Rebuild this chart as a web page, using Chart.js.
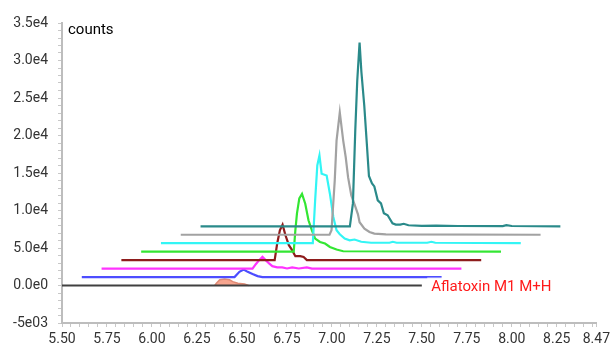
<!DOCTYPE html>
<html>
<head>
<meta charset="utf-8">
<script src="https://cdn.jsdelivr.net/npm/chart.js@4/dist/chart.umd.min.js"></script>
<style>
  html, body { margin: 0; padding: 0; background: #fff; }
  #wrap { width: 614px; height: 347px; }
</style>
</head>
<body>
<div id="wrap"><canvas id="chromChart" width="614" height="347"></canvas></div>
<script>
// 重ね表示したクロマトグラム（時間 [min], counts）
const tealTrace = [[6.27, 7890], [7.10, 7890], [7.117, 10950], [7.130, 20650], [7.141, 27300], [7.154, 32390],
    [7.164, 28500], [7.180, 24000], [7.194, 19000], [7.206, 14600], [7.223, 13610], [7.236, 13210], [7.255, 11350],
    [7.273, 10950], [7.289, 9620], [7.310, 9360], [7.337, 8290], [7.355, 8120], [7.380, 8120], [7.399, 8230],
    [7.426, 8030], [7.50, 7960], [7.58, 7990], [7.70, 7930], [7.95, 7930], [7.97, 8050], [8.00, 7930], [8.27, 7890]];
const greyTrace = [[6.16, 6770], [6.987, 6770], [6.998, 7360], [7.016, 14010], [7.026, 19320], [7.044, 23090],
    [7.063, 19320], [7.077, 17100], [7.090, 14450], [7.108, 12010], [7.126, 10820], [7.145, 9490], [7.154, 8430],
    [7.181, 7590], [7.209, 7140], [7.236, 6920], [7.30, 6820], [8.16, 6770]];
const cyanTrace = [[6.05, 5640], [6.894, 5640], [6.907, 11350], [6.919, 16000], [6.931, 17330], [6.943, 14900],
    [6.971, 14670], [6.989, 12240], [7.008, 9130], [7.026, 7360], [7.044, 6830], [7.071, 6260], [7.099, 6030],
    [7.126, 6130], [7.163, 5830], [7.218, 5700], [7.32, 5700], [7.339, 5830], [7.36, 5700], [7.53, 5700],
    [7.553, 5830], [7.575, 5700], [8.05, 5640]];
const greenTrace = [[5.94, 4510], [6.788, 4510], [6.797, 7360], [6.806, 9620], [6.819, 11620], [6.834, 12210],
    [6.852, 10910], [6.870, 8690], [6.889, 7360], [6.907, 6260], [6.934, 5810], [6.962, 5600], [6.989, 5140],
    [7.026, 4800], [7.063, 4570], [7.94, 4510]];
const darkRedTrace = [[5.83, 3380], [6.682, 3380], [6.696, 5600], [6.711, 7360], [6.726, 8120], [6.742, 6700],
    [6.761, 5370], [6.779, 4710], [6.797, 3910], [6.824, 3910], [6.843, 3810], [6.861, 3380], [7.83, 3380]];
const magentaTrace = [[5.72, 2250], [6.559, 2250], [6.577, 2840], [6.596, 3380], [6.614, 3810], [6.632, 3380],
    [6.651, 2940], [6.669, 2580], [6.696, 2410], [6.724, 2410], [6.751, 2270], [6.779, 2410], [6.816, 2270],
    [6.861, 2410], [6.889, 2250], [7.72, 2250]];
const blueTrace = [[5.61, 1130], [6.459, 1130], [6.486, 1820], [6.510, 2140], [6.532, 1820], [6.559, 1520],
    [6.587, 1250], [6.614, 1130], [7.61, 1130]];
const blackTrace = [[5.50, 0], [7.50, 0]];
// 積分されたピーク（塗りつぶし）
const blackPeak = [[6.349, 0], [6.358, 300], [6.377, 760], [6.404, 880], [6.431, 760], [6.449, 520],
    [6.477, 300], [6.514, 190], [6.537, 0]];

// 軸目盛
const xMajorTicks = [5.50, 5.75, 6.00, 6.25, 6.50, 6.75, 7.00, 7.25, 7.50, 7.75, 8.00, 8.25, 8.47];
const xMinorStep = 0.05;
const yTickValues = [35000, 30000, 25000, 20000, 15000, 10000, 5000, 0, -5000];
const yTickLabels = ['3.5e4', '3.0e4', '2.5e4', '2.0e4', '1.5e4', '1.0e4', '5.0e4', '0.0e0', '-5e03'];
const yMinorStep = 1000;

const compoundLabel = 'Aflatoxin M1 M+H';
const yAxisTitle = 'counts';

const toXY = arr => arr.map(p => ({ x: p[0], y: p[1] }));

function lineSet(data, color) {
    return {
        data: toXY(data),
        borderColor: color,
        borderWidth: 2.2,
        pointRadius: 0,
        showLine: true,
        tension: 0,
        fill: false
    };
}

// テキスト（counts、化合物名）
const labelPlugin = {
    id: 'labels',
    afterDatasetsDraw(chart) {
        const ctx = chart.ctx;
        const xs = chart.scales.x;
        const ys = chart.scales.y;
        ctx.save();
        ctx.font = '15px Roboto, sans-serif';
        ctx.textBaseline = 'middle';
        ctx.textAlign = 'left';
        ctx.fillStyle = '#000';
        ctx.fillText(yAxisTitle, chart.chartArea.left + 6, chart.chartArea.top + 7);

        const lx = xs.getPixelForValue(7.53) + 4;
        const ly = ys.getPixelForValue(0) + 2;
        const w = ctx.measureText(compoundLabel).width;
        ctx.fillStyle = 'rgba(255,255,255,0.75)';
        ctx.fillRect(lx - 4, ly - 10, w + 8, 20);
        ctx.fillStyle = '#ff1a1a';
        ctx.fillText(compoundLabel, lx, ly);
        ctx.restore();
    }
};

const ctx = document.getElementById('chromChart').getContext('2d');
const chromChart = new Chart(ctx, {
    type: 'scatter',
    data: {
        datasets: [
            lineSet(tealTrace, '#2a8a8a'),
            lineSet(greyTrace, '#a2a2a2'),
            lineSet(cyanTrace, '#33f5f5'),
            lineSet(greenTrace, '#33e633'),
            lineSet(darkRedTrace, '#8e1c1c'),
            lineSet(magentaTrace, '#ff33ff'),
            lineSet(blueTrace, '#4d4dff'),
            lineSet(blackTrace, '#404040'),
            Object.assign(lineSet(blackPeak, '#e08a74'), {
                borderWidth: 1.5,
                fill: 'origin',
                backgroundColor: '#f7a58f'
            })
        ]
    },
    options: {
        responsive: false,
        animation: false,
        layout: { padding: { left: 0, right: 11, top: 23, bottom: 0 } },
        plugins: {
            legend: { display: false },
            title: { display: false },
            tooltip: { enabled: false }
        },
        scales: {
            x: {
                type: 'linear',
                min: 5.5,
                max: 8.47,
                afterBuildTicks: scale => {
                    const t = [];
                    for (let v = 5.5; v < 8.46; v += xMinorStep) t.push({ value: +v.toFixed(2) });
                    t.push({ value: 8.47 });
                    scale.ticks = t;
                },
                afterFit: scale => { scale.height = 24; },
                grid: {
                    drawOnChartArea: false,
                    drawTicks: true,
                    tickLength: 4,
                    tickColor: '#c8c8c8'
                },
                border: { display: true, color: '#bdbdbd', width: 2 },
                ticks: {
                    autoSkip: false,
                    maxRotation: 0,
                    padding: 4,
                    color: '#333',
                    font: { family: 'Roboto', size: 14 },
                    callback: v => {
                        const m = xMajorTicks.find(t => Math.abs(t - v) < 1e-6);
                        return m === undefined ? '' : m.toFixed(2);
                    }
                }
            },
            y: {
                type: 'linear',
                min: -5000,
                max: 35000,
                afterBuildTicks: scale => {
                    const t = [];
                    for (let v = -5000; v <= 35000; v += yMinorStep) t.push({ value: v });
                    scale.ticks = t;
                },
                afterFit: scale => { scale.width = 62; },
                grid: {
                    drawOnChartArea: false,
                    drawTicks: true,
                    tickLength: 4,
                    tickColor: '#c8c8c8'
                },
                border: { display: true, color: '#bdbdbd', width: 2 },
                ticks: {
                    autoSkip: false,
                    padding: 10,
                    color: '#333',
                    font: { family: 'Roboto', size: 14 },
                    callback: v => {
                        const i = yTickValues.indexOf(v);
                        return i < 0 ? '' : yTickLabels[i];
                    }
                }
            }
        }
    },
    plugins: [labelPlugin]
});
</script>
</body>
</html>
